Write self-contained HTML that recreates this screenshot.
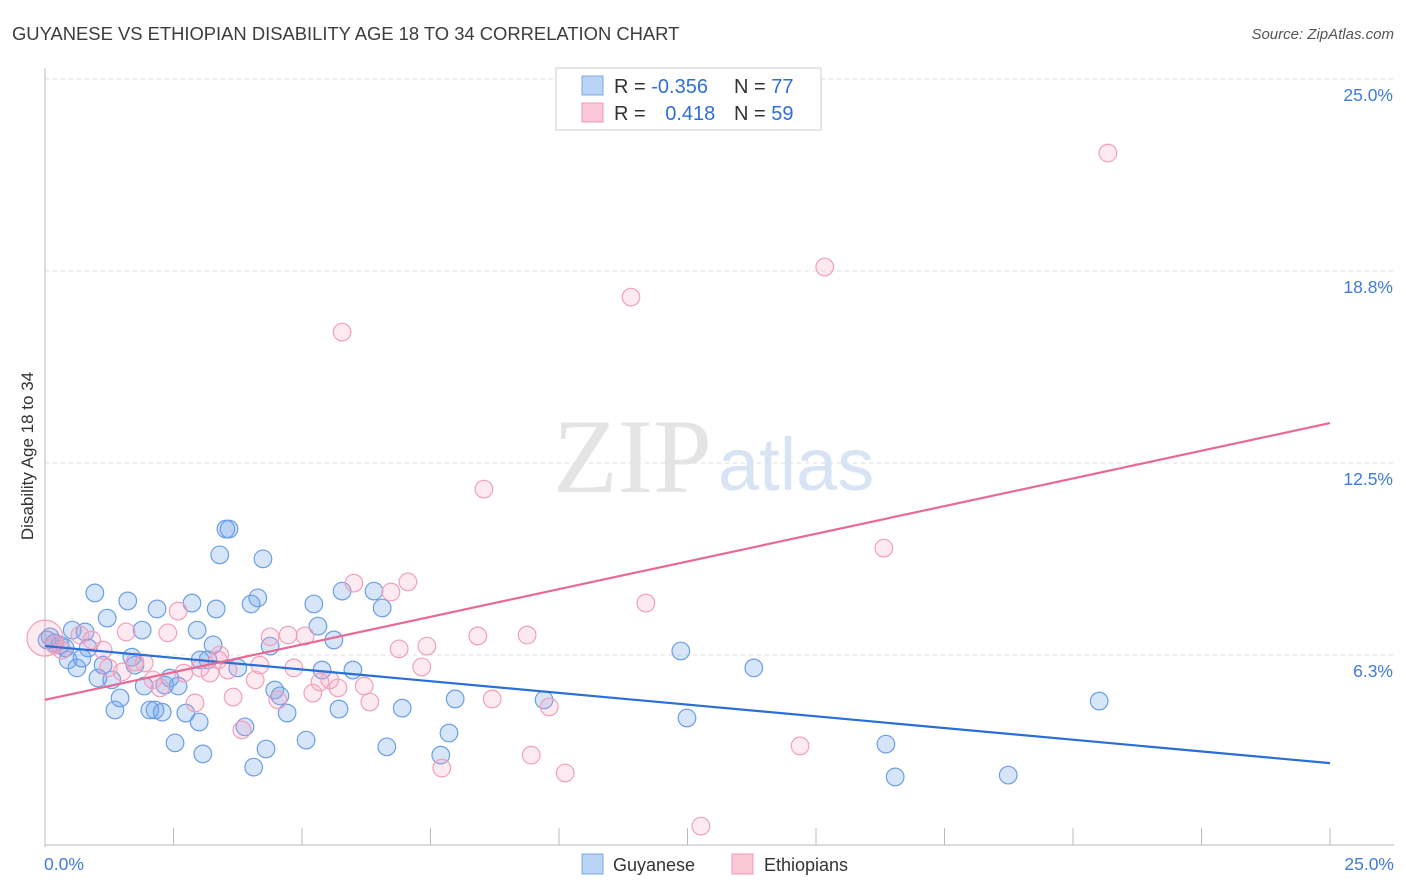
<!DOCTYPE html>
<html><head><meta charset="utf-8"><style>
body{margin:0;background:#fff;font-family:"Liberation Sans",sans-serif;}
svg{display:block}
</style></head><body>
<svg id="chart" width="1406" height="892" xmlns="http://www.w3.org/2000/svg">
<text x="12" y="40" font-size="18.4" fill="#3c3c3c">GUYANESE VS ETHIOPIAN DISABILITY AGE 18 TO 34 CORRELATION CHART</text>
<text x="1394" y="39" font-size="15" fill="#555" text-anchor="end" font-style="italic">Source: ZipAtlas.com</text>
<text x="0" y="0" font-size="17" fill="#333" transform="translate(33,456) rotate(-90)" text-anchor="middle">Disability Age 18 to 34</text>
<g id="grid"></g>
<text x="553" y="492" font-size="106" fill="#e4e4e4" font-family="Liberation Serif,serif">ZIP</text>
<text x="718" y="490" font-size="74" fill="#d8e4f4">atlas</text>
<g id="marks"></g>
<g>
<rect x="556" y="68" width="265" height="62" fill="#fff" stroke="#ccc"/>
<rect x="582" y="76" width="21" height="19" fill="#b9d3f5" stroke="#7aa6e6"/>
<rect x="582" y="103" width="21" height="19" fill="#f9c7d6" stroke="#ee9ab5"/>
<text x="614" y="93" font-size="20" fill="#333">R = <tspan fill="#2f6fd6">-0.356</tspan></text>
<text x="734" y="93" font-size="20" fill="#333">N = <tspan fill="#2f6fd6">77</tspan></text>
<text x="614" y="120" font-size="20" fill="#333">R = <tspan fill="#2f6fd6" dx="14">0.418</tspan></text>
<text x="734" y="120" font-size="20" fill="#333">N = <tspan fill="#2f6fd6">59</tspan></text>
</g>
<g>
<rect x="582" y="854" width="21" height="20" fill="#b9d3f5" stroke="#7aa6e6"/>
<text x="613" y="871" font-size="18" fill="#333">Guyanese</text>
<rect x="732" y="854" width="21" height="20" fill="#f9c7d6" stroke="#ee9ab5"/>
<text x="764" y="871" font-size="18" fill="#333">Ethiopians</text>
</g>
</svg>
<script>
const yTicks=[6.25,12.5,18.75,25];
const yTickLabels=["6.3%","12.5%","18.8%","25.0%"];
const xTicks=[0,2.5,5,7.5,10,12.5,15,17.5,20,22.5,25];
const xEndLabels=["0.0%","25.0%"];
const guyX=[.04,.10,.19,.29,.39,.45,.53,.62,.72,.78,.84,.97,1.03,1.13,1.21,1.30,1.36,1.46,1.61,1.69,1.75,1.89,1.93,2.04,2.14,2.18,2.28,2.33,2.43,2.53,2.59,2.74,2.86,2.96,3.00,3.07,3.17,3.27,3.33,3.40,3.52,3.58,3.75,3.89,4.01,4.06,4.14,4.24,4.30,4.38,4.47,4.57,4.71,5.08,5.23,5.31,5.39,5.62,5.72,5.78,5.99,6.40,6.56,6.65,6.95,7.70,7.86,7.98,9.71,12.37,12.49,13.79,16.36,16.54,18.74,20.51,3.02];
const guyY=[6.74,6.84,6.64,6.58,6.48,6.09,7.06,5.83,6.15,7.00,6.48,8.27,5.50,5.92,7.45,5.44,4.46,4.85,8.01,6.18,5.92,7.06,5.24,4.46,4.46,7.75,4.39,5.27,5.50,3.39,5.24,4.36,7.94,7.06,4.07,3.03,6.09,6.58,7.75,9.51,10.35,10.35,5.83,3.91,7.91,2.60,8.11,9.38,3.19,6.54,5.11,4.92,4.36,3.48,7.91,7.19,5.76,6.74,4.49,8.33,5.76,8.33,7.78,3.26,4.52,2.99,3.71,4.82,4.79,6.38,4.20,5.83,3.35,2.28,2.34,4.75,6.09];
const ethX=[0,.19,.33,.68,.91,1.13,1.23,1.58,1.75,1.93,2.10,2.24,2.39,2.59,2.70,2.92,3.02,3.21,3.40,3.56,3.66,3.83,4.09,4.18,4.38,4.53,4.73,4.84,5.06,5.21,5.35,5.54,5.70,5.78,6.01,6.21,6.32,6.73,6.89,7.06,7.33,7.43,7.72,8.42,8.54,8.70,9.38,9.46,9.81,10.12,11.40,11.69,12.76,14.69,15.17,16.32,20.68,1.50,3.37];
const ethY=[6.80,6.58,6.41,6.90,6.74,6.41,5.83,7.00,6.02,5.99,5.44,5.18,6.97,7.68,5.66,4.69,5.83,5.66,6.25,5.76,4.88,3.81,5.44,5.92,6.84,4.79,6.90,5.83,6.87,5.01,5.37,5.44,5.18,16.76,8.59,5.24,4.72,8.30,6.45,8.63,5.86,6.54,2.57,6.87,11.65,4.82,6.90,2.99,4.56,2.41,17.90,7.94,0.68,3.29,18.88,9.73,22.59,5.70,6.09];
const guyLine=[6.54,2.73];
const ethLine=[4.79,13.80];
const NS="http://www.w3.org/2000/svg";
const X0=45,X1=1330,Y0=847,Y1=79;
function sx(v){return X0+(v/25)*(X1-X0);}
function sy(v){return Y0-(v/25)*(Y0-Y1);}
function mk(t,a,p){const e=document.createElementNS(NS,t);for(const k in a)e.setAttribute(k,a[k]);p.appendChild(e);return e;}
const grid=document.getElementById('grid'),marks=document.getElementById('marks');
yTicks.forEach((t,i)=>{
 const l=mk('line',{x1:X0,x2:1394,y1:sy(t),y2:sy(t),stroke:'#ddd','stroke-dasharray':'4,4'},grid);
 
 
 const tx=mk('text',{x:1393,y:sy(t)+22,'font-size':17.5,fill:'#3f7bd8','text-anchor':'end'},grid);
 tx.textContent=yTickLabels[i];
 
 
});
const ya=mk('line',{x1:X0,x2:X0,y1:68,y2:Y0,stroke:'#bbb'},grid);


const xa=mk('line',{x1:X0,x2:1394,y1:845,y2:845,stroke:'#bbb'},grid);


xTicks.forEach(t=>{
 const l=mk('line',{x1:sx(t),x2:sx(t),y1:828,y2:845,stroke:'#bbb'},grid);
 
 
});
[[0,'start',44],[25,'end',1394]].forEach((d,i)=>{
 const tx=mk('text',{x:d[2],y:870,'font-size':17.5,fill:'#3f7bd8','text-anchor':d[1]},grid);
 tx.textContent=xEndLabels[i];
 
 
});
guyX.forEach((x,i)=>{
 const c=mk('circle',{cx:sx(x),cy:sy(guyY[i]),r:8.8,fill:'rgba(110,160,235,0.28)',stroke:'#6b9ee6','stroke-width':1.2},marks);
 
 
});
ethX.forEach((x,i)=>{
 const c=mk('circle',{cx:sx(x),cy:sy(ethY[i]),r:i===0?18:8.8,fill:'rgba(245,160,190,0.22)',stroke:'#f0a0bb','stroke-width':1.2},marks);
 
 
});
const bl=mk('line',{x1:sx(0),y1:sy(guyLine[0]),x2:sx(25),y2:sy(guyLine[1]),stroke:'#2a6ed8','stroke-width':2.2},marks);


const pl=mk('line',{x1:sx(0),y1:sy(ethLine[0]),x2:sx(25),y2:sy(ethLine[1]),stroke:'#e86a94','stroke-width':2.2},marks);


</script>
</body></html>
